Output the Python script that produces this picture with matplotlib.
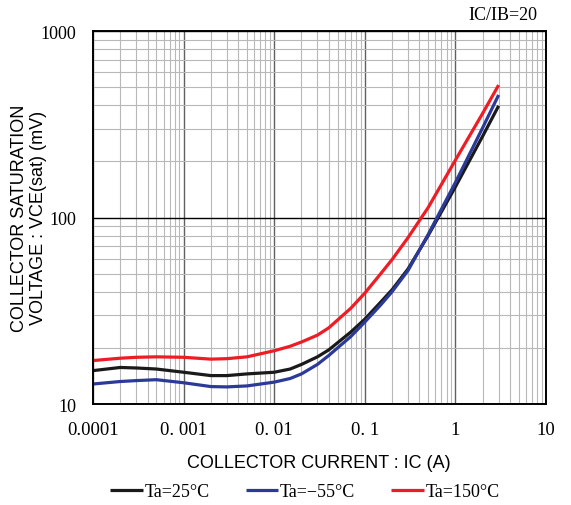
import matplotlib
matplotlib.use('Agg')
import matplotlib.pyplot as plt
from matplotlib.ticker import LogLocator, NullFormatter, FixedLocator, FixedFormatter

# collector current (A)
ic = [1e-4, 2e-4, 3e-4, 5e-4, 1e-3, 2e-3, 3e-3, 5e-3, 1e-2, 1.5e-2, 2e-2,
      3e-2, 4e-2, 7e-2, 0.1, 0.15, 0.2, 0.3, 0.5, 1, 2, 3]

# VCE(sat) in mV
vce_25 = [15.1, 15.7, 15.6, 15.4, 14.8, 14.2, 14.2, 14.5, 14.8, 15.4, 16.3,
          17.9, 19.5, 24.3, 28.5, 35.2, 41, 53, 80, 146, 273, 397]
vce_m55 = [12.8, 13.2, 13.35, 13.5, 13.0, 12.4, 12.35, 12.5, 13.1, 13.7, 14.5,
           16.3, 18.2, 23.0, 27.5, 34.0, 40, 52, 81, 154, 303, 454]
vce_150 = [17.1, 17.6, 17.8, 17.9, 17.8, 17.4, 17.5, 17.9, 19.3, 20.4, 21.5,
           23.4, 25.6, 32.6, 39.3, 50.0, 59.5, 78, 113, 203, 362, 513]

labels = ['Ta=25°C', 'Ta=\u221255°C', 'Ta=150°C']
colors = ['#1a1a1a', '#2b3a98', '#ee1c25']

xticks = [1e-4, 1e-3, 1e-2, 1e-1, 1, 10]
xtick_labels = ['0.0001', '0. 001', '0. 01', '0. 1', '1', '10']
yticks = [10, 100, 1000]
ytick_labels = ['10', '100', '1000']

W, H = 571, 506
fig = plt.figure(figsize=(W / 100, H / 100), dpi=100)
ax = fig.add_axes([93 / W, 1 - 405 / H, (546 - 93) / W, (405 - 32) / H])

for ys, lab, c in zip([vce_25, vce_m55, vce_150], labels, colors):
    ax.plot(ic, ys, color=c, lw=2.3, label=lab, solid_capstyle='butt',
            solid_joinstyle='round')

ax.set_xscale('log')
ax.set_yscale('log')
ax.set_xlim(1e-4, 10)
ax.set_ylim(10, 1000)

ax.xaxis.set_major_locator(FixedLocator(xticks))
ax.xaxis.set_major_formatter(FixedFormatter(xtick_labels))
ax.yaxis.set_major_locator(FixedLocator(yticks))
ax.yaxis.set_major_formatter(FixedFormatter(ytick_labels))
ax.xaxis.set_minor_locator(LogLocator(base=10, subs=range(2, 10)))
ax.yaxis.set_minor_locator(LogLocator(base=10, subs=range(2, 10)))
ax.xaxis.set_minor_formatter(NullFormatter())
ax.yaxis.set_minor_formatter(NullFormatter())

serif = 'Liberation Serif'
sans = 'Liberation Sans'
ax.tick_params(which='both', length=0)
ax.tick_params(axis='x', pad=12)
ax.tick_params(axis='y', pad=12)
for t in ax.get_xticklabels():
    t.set_fontfamily(serif)
    t.set_fontsize(13.5)
for t in ax.get_yticklabels():
    t.set_fontfamily(serif)
    t.set_fontsize(13)

ax.grid(which='minor', color='#b8b8b8', lw=0.8)
ax.grid(which='major', axis='x', color='#606060', lw=1.0)
ax.grid(which='major', axis='y', color='black', lw=1.0)
ax.set_axisbelow(True)
for s in ax.spines.values():
    s.set_color('black')
    s.set_linewidth(1.4)

fig.text(319 / W, 1 - 463 / H, 'COLLECTOR CURRENT : IC (A)', family=sans,
         fontsize=13, ha='center', va='center')
fig.text(29 / W, 1 - 218 / H, 'COLLECTOR SATURATION\nVOLTAGE : VCE(sat) (mV)',
         family=sans, fontsize=13, ha='center', va='center', rotation=90,
         linespacing=1.1)
fig.text(537 / W, 1 - 15 / H, 'IC/IB=20', family=serif, fontsize=13,
         ha='right', va='center')

fig.legend(loc='center', bbox_to_anchor=(305 / W, 1 - 493 / H), ncol=3,
           frameon=False, prop={'family': serif, 'size': 13},
           handlelength=1.8, handletextpad=0.1, columnspacing=2.0,
           borderpad=0, borderaxespad=0)

fig.savefig('out.png', dpi=100)
